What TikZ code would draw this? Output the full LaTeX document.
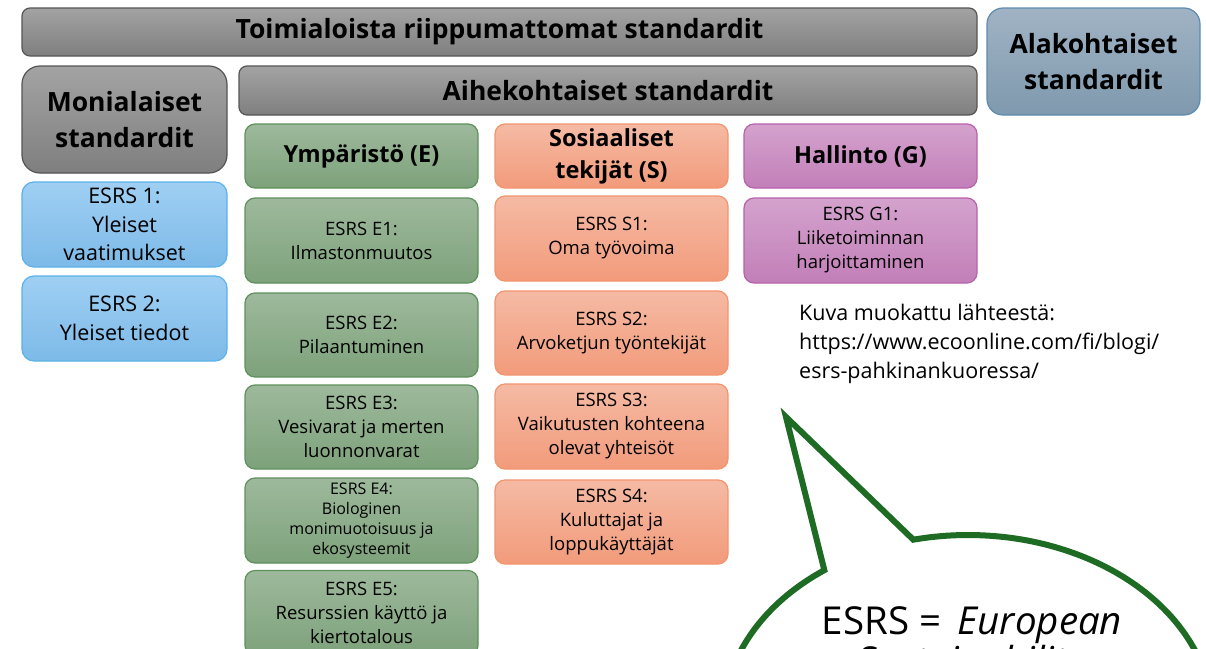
\documentclass[tikz,border=0pt]{standalone}
\usepackage{fontspec}
\setmainfont{Open Sans}
\usetikzlibrary{shapes.callouts}
\definecolor{grayT}{HTML}{A3A3A3}
\definecolor{grayB}{HTML}{7F7F7F}
\definecolor{grayD}{HTML}{555555}
\definecolor{slateT}{HTML}{A0B3C4}
\definecolor{slateB}{HTML}{7F99AE}
\definecolor{slateD}{HTML}{5E8BAE}
\definecolor{blueT}{HTML}{9FCFF3}
\definecolor{blueB}{HTML}{7DBAE8}
\definecolor{blueD}{HTML}{5BB2E8}
\definecolor{greenT}{HTML}{9EB99C}
\definecolor{greenB}{HTML}{7DA27B}
\definecolor{greenD}{HTML}{5E915C}
\definecolor{salT}{HTML}{F5BAA4}
\definecolor{salB}{HTML}{F29B7B}
\definecolor{salD}{HTML}{F2956E}
\definecolor{purT}{HTML}{D4A2CD}
\definecolor{purB}{HTML}{C27FB8}
\definecolor{purD}{HTML}{B862AD}
\definecolor{cgreen}{HTML}{1E6B24}
\tikzset{
  box/.style={rounded corners=#1, inner sep=0pt, outer sep=0pt, align=center, line width=1.2pt, text=black},
  graybox/.style={box=#1, draw=grayD, top color=grayT, bottom color=grayB},
  slatebox/.style={box=#1, draw=slateD, top color=slateT, bottom color=slateB},
  bluebox/.style={box=12pt, draw=blueD, top color=blueT, bottom color=blueB, minimum width=205pt, minimum height=85pt},
  greenbox/.style={box=10pt, draw=greenD, top color=greenT, bottom color=greenB, minimum width=233pt},
  salbox/.style={box=10pt, draw=salD, top color=salT, bottom color=salB, minimum width=233pt},
  purbox/.style={box=10pt, draw=purD, top color=purT, bottom color=purB, minimum width=233pt},
  headfont/.style={font=\fontsize{26.5}{36}\selectfont\bfseries},
  subhead/.style={font=\fontsize{23.5}{32}\selectfont\bfseries},
  smallfont/.style={font=\fontsize{18.5}{24}\selectfont},
  tinyfont/.style={font=\fontsize{16}{20}\selectfont},
  bluefont/.style={font=\fontsize{21.5}{28.5}\selectfont},
}
\begin{document}
\begin{tikzpicture}[x=1pt,y=-1pt]
\useasboundingbox (0,0) rectangle (1206,648);
\clip (0,0) rectangle (1206,648);
\fill[white] (0,0) rectangle (1206,648);
% top headers
\node[graybox=8pt, headfont, minimum width=955pt, minimum height=48pt] (top) at (499.5,32) {Toimialoista riippumattomat standardit};
\node[slatebox=16pt, headfont, minimum width=213pt, minimum height=107pt] (ala) at (1093.5,61.5) {Alakohtaiset\\standardit};
\node[graybox=18pt, headfont, minimum width=205pt, minimum height=107pt] (moni) at (124.5,119.5) {Monialaiset\\standardit};
\node[graybox=8pt, headfont, minimum width=738pt, minimum height=49pt] (aihe) at (608,90.5) {Aihekohtaiset standardit};
% category heads
\node[greenbox, subhead, minimum height=64pt] (E) at (361.5,156) {Ympäristö (E)};
\node[salbox, subhead, minimum height=64pt] (S) at (611.5,156) {Sosiaaliset\\tekijät (S)};
\node[purbox, subhead, minimum height=64pt] (G) at (860.5,156) {Hallinto (G)};
% cross-cutting
\node[bluebox, bluefont] (e1) at (124.5,224.5) {ESRS 1:\\Yleiset\\vaatimukset};
\node[bluebox, bluefont] (e2) at (124.5,318.5) {ESRS 2:\\Yleiset tiedot};
% environment
\node[greenbox, smallfont, minimum height=85pt] (E1) at (361.5,240.5) {ESRS E1:\\Ilmastonmuutos};
\node[greenbox, smallfont, minimum height=84pt] (E2) at (361.5,335) {ESRS E2:\\Pilaantuminen};
\node[greenbox, smallfont, minimum height=84pt] (E3) at (361.5,427) {ESRS E3:\\Vesivarat ja merten\\luonnonvarat};
\node[greenbox, tinyfont, minimum height=85pt] (E4) at (361.5,520.5) {ESRS E4:\\Biologinen\\monimuotoisuus ja\\ekosysteemit};
\node[greenbox, smallfont, minimum height=85pt] (E5) at (361.5,613) {ESRS E5:\\Resurssien käyttö ja\\kiertotalous};
% social
\node[salbox, smallfont, minimum height=85pt] (S1) at (611.5,238.5) {ESRS S1:\\Oma työvoima};
\node[salbox, smallfont, minimum height=84pt] (S2) at (611.5,333) {ESRS S2:\\Arvoketjun työntekijät};
\node[salbox, smallfont, minimum height=85pt] (S3) at (611.5,426.5) {ESRS S3:\\Vaikutusten kohteena\\olevat yhteisöt};
\node[salbox, smallfont, minimum height=84pt] (S4) at (611.5,522) {ESRS S4:\\Kuluttajat ja\\loppukäyttäjät};
% governance
\node[purbox, smallfont, minimum height=85pt] (G1) at (860.5,240.5) {ESRS G1:\\Liiketoiminnan\\harjoittaminen};
% source
\node[anchor=north west, inner sep=0pt, align=left, font=\fontsize{21.5}{29}\selectfont] (src) at (799,304) {Kuva muokattu lähteestä:\\https://www.ecoonline.com/fi/blogi/\\esrs-pahkinankuoressa/};
% callout
\node[ellipse callout, draw=cgreen, line width=6pt, fill=white, minimum width=490pt, minimum height=370pt, inner sep=0pt, callout absolute pointer={(786,417)}, callout pointer arc=23] (callout) at (968,720) {};
\node[inner sep=0pt, align=center, font=\fontsize{38.5}{40}\selectfont] (ctext) at (972,645) {ESRS = \,\textit{European}\\\textit{Sustainability}};
\end{tikzpicture}
\end{document}
